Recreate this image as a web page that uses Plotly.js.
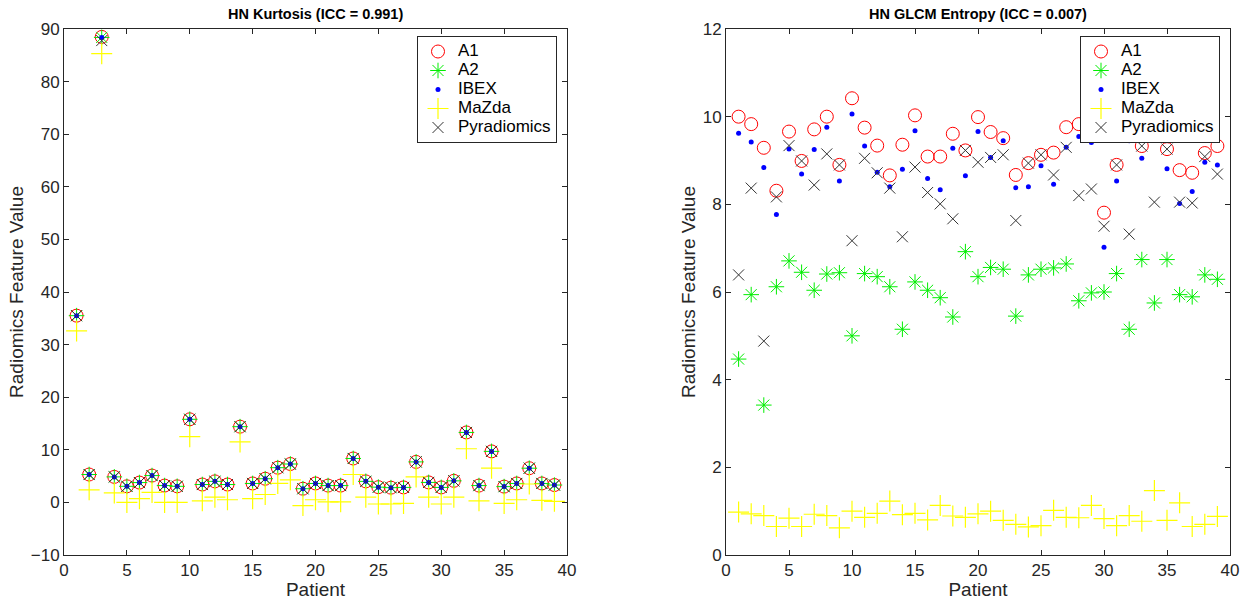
<!DOCTYPE html>
<html>
<head>
<meta charset="utf-8">
<script src="https://cdn.plot.ly/plotly-3.0.1.min.js"></script>
<style>html,body{margin:0;padding:0;background:#fff;}#chart{width:1250px;height:600px;}</style>
</head>
<body>
<div id="chart"></div>
<script>
// ---------- data ----------
const patients = [1,2,3,4,5,6,7,8,9,10,11,12,13,14,15,16,17,18,19,20,21,22,23,24,25,26,27,28,29,30,31,32,33,34,35,36,37,38,39];

// HN Kurtosis
const kurtA1   = [35.5,5.3,88.5,4.85,3.06,3.77,5.1,3.2,3.06,15.8,3.4,4.0,3.4,14.4,3.6,4.5,6.6,7.3,2.6,3.6,3.2,3.2,8.35,4.0,2.9,2.8,2.85,7.7,3.8,2.85,4.1,13.3,3.2,9.7,3.0,3.6,6.5,3.6,3.3];
const kurtA2   = [35.5,5.3,88.4,4.85,3.06,3.77,5.1,3.2,3.06,15.8,3.4,4.0,3.4,14.4,3.6,4.5,6.6,7.3,2.6,3.6,3.2,3.2,8.35,4.0,2.9,2.8,2.85,7.7,3.8,2.85,4.1,13.3,3.2,9.7,3.0,3.6,6.5,3.6,3.3];
const kurtIBEX = [35.5,5.3,88.4,4.85,3.06,3.77,5.1,3.2,3.06,15.8,3.4,4.0,3.4,14.4,3.6,4.5,6.6,7.3,2.6,3.6,3.2,3.2,8.35,4.0,2.9,2.8,2.85,7.7,3.8,2.85,4.1,13.3,3.2,9.7,3.0,3.6,6.5,3.6,3.3];
const kurtMaZda= [32.6,2.4,85.3,1.8,0.0,0.7,1.9,0.0,0.0,12.5,0.3,1.0,0.5,11.5,0.7,1.5,3.6,4.3,-0.6,0.5,0.1,0.1,5.3,1.0,-0.3,-0.3,-0.2,4.85,1.0,-0.3,1.0,10.2,0.3,6.5,-0.2,0.5,3.5,0.4,0.2];
const kurtPyra = [35.5,5.3,87.8,4.85,3.06,3.77,5.1,3.2,3.06,15.8,3.4,4.0,3.4,14.4,3.6,4.5,6.6,7.3,2.6,3.6,3.2,3.2,8.35,4.0,2.9,2.8,2.85,7.7,3.8,2.85,4.1,13.3,3.2,9.7,3.0,3.6,6.5,3.6,3.3];

// HN GLCM Entropy
const entA1    = [10.0,9.83,9.29,8.31,9.66,8.99,9.71,10.0,8.9,10.42,9.75,9.34,8.66,9.36,10.03,9.09,9.09,9.61,9.23,9.99,9.65,9.51,8.67,8.94,9.13,9.18,9.76,9.83,9.75,7.81,8.9,9.9,9.33,9.8,9.26,8.78,8.72,9.17,9.33];
const entA2    = [4.47,5.94,3.42,6.12,6.71,6.45,6.04,6.41,6.44,5.0,6.42,6.35,6.12,5.15,6.23,6.04,5.87,5.43,6.92,6.35,6.56,6.52,5.45,6.39,6.52,6.55,6.64,5.8,5.98,6.0,6.42,5.15,6.74,5.75,6.74,5.94,5.89,6.39,6.29];
const entIBEX  = [9.62,9.42,8.84,7.77,9.26,8.69,9.25,9.76,8.53,10.06,9.33,8.73,8.4,8.8,9.68,8.59,8.33,9.28,8.65,9.66,9.07,9.45,8.38,8.4,8.88,8.46,9.3,9.55,9.41,7.02,8.53,9.45,9.05,9.53,8.81,8.02,8.29,8.96,8.9];
const entMaZda = [0.98,0.94,0.9,0.65,0.84,0.65,0.93,0.9,0.62,1.0,0.86,0.95,1.23,0.92,0.95,0.8,1.13,0.89,0.86,0.94,1.0,0.79,0.7,0.64,0.67,1.02,0.86,0.85,1.13,0.83,0.67,0.9,0.77,1.47,0.79,1.19,0.65,0.7,0.88];
const entPyra  = [6.39,8.37,4.88,8.17,9.34,8.99,8.44,9.15,8.9,7.17,9.05,8.72,8.37,7.26,8.85,8.27,8.01,7.67,9.23,8.96,9.07,9.13,7.63,8.94,9.13,8.67,9.3,8.2,8.35,7.5,8.9,7.32,9.33,8.05,9.26,8.05,8.03,9.09,8.69];

const seriesNames = ['A1','A2','IBEX','MaZda','Pyradiomics'];
const xTicks = [0,5,10,15,20,25,30,35,40];
const yTicksLeft = [-10,0,10,20,30,40,50,60,70,80,90];
const yTicksRight = [0,2,4,6,8,10,12];
const titles = ['HN Kurtosis (ICC = 0.991)','HN GLCM Entropy (ICC = 0.007)'];

// ---------- styles ----------
const FONT = '"Liberation Sans", Arial, Helvetica, sans-serif';
const markerStyles = [
  {symbol:'circle-open', size:13, color:'#ff0000', line:{color:'#ff0000', width:1}},
  {symbol:'asterisk-open', size:13, color:'#00ee00', line:{color:'#00ee00', width:1}},
  {symbol:'circle', size:5, color:'#0000ff', line:{width:0}},
  {symbol:'cross-thin-open', size:15, color:'#ffff00', line:{color:'#ffff00', width:1.2}},
  {symbol:'x-thin-open', size:11, color:'#333333', line:{color:'#333333', width:1}}
];

function makeTraces(seriesList, xa, ya, legendId) {
  return seriesList.map((vals, i) => ({
    type:'scatter', mode:'markers', x:patients, y:vals,
    name:'<span style="font-size:17px">' + seriesNames[i] + '</span>',
    xaxis:xa, yaxis:ya, legend:legendId,
    marker:markerStyles[i], cliponaxis:false
  }));
}

const data = [
  ...makeTraces([kurtA1,kurtA2,kurtIBEX,kurtMaZda,kurtPyra],'x','y','legend'),
  ...makeTraces([entA1,entA2,entIBEX,entMaZda,entPyra],'x2','y2','legend2')
];

const W = 1250, H = 600;
const yDom = [1-555/H, 1-29/H];
const xDomL = [64/W, 567/W];
const xDomR = [726/W, 1230/W];
const AXC = '#262626';

function axisBase(extra, titleText, standoff) {
  return Object.assign({
    showline:true, linecolor:AXC, linewidth:1, mirror:'ticks',
    ticks:'inside', ticklen:5, tickcolor:AXC, tickwidth:1,
    showgrid:false, zeroline:false,
    tickfont:{family:FONT, size:17, color:AXC},
    title:{text:titleText, standoff:standoff, font:{family:FONT, size:19, color:AXC}}
  }, extra);
}

const legendBase = {
  bgcolor:'#ffffff', bordercolor:AXC, borderwidth:1,
  font:{family:FONT, size:12, color:'#000000'},
  xanchor:'left', yanchor:'top', tracegroupgap:0, itemclick:false
};

const layout = {
  width:W, height:H, margin:{l:0,r:0,t:0,b:0},
  paper_bgcolor:'#ffffff', plot_bgcolor:'#ffffff',
  showlegend:true,
  xaxis: axisBase({domain:xDomL, range:[0,40], tickvals:xTicks, anchor:'y'}, 'Patient', 2),
  yaxis: axisBase({domain:yDom, range:[-10,90], tickvals:yTicksLeft, anchor:'x'}, 'Radiomics Feature Value', 2),
  xaxis2: axisBase({domain:xDomR, range:[0,40], tickvals:xTicks, anchor:'y2'}, 'Patient', 2),
  yaxis2: axisBase({domain:yDom, range:[0,12], tickvals:yTicksRight, anchor:'x2'}, 'Radiomics Feature Value', 2),
  legend: Object.assign({}, legendBase, {x:417/W, y:1-36/H}),
  legend2: Object.assign({}, legendBase, {x:1080/W, y:1-36/H}),
  annotations: [
    {text:'<b>'+titles[0]+'</b>', xref:'paper', yref:'paper', x:(xDomL[0]+xDomL[1])/2, y:1-14/H, xanchor:'center', yanchor:'middle', showarrow:false, font:{family:FONT,size:14.5,color:'#000'}},
    {text:'<b>'+titles[1]+'</b>', xref:'paper', yref:'paper', x:(xDomR[0]+xDomR[1])/2, y:1-14/H, xanchor:'center', yanchor:'middle', showarrow:false, font:{family:FONT,size:14.5,color:'#000'}}
  ]
};

Plotly.newPlot('chart', data, layout, {displayModeBar:false, staticPlot:true});
</script>
</body>
</html>
